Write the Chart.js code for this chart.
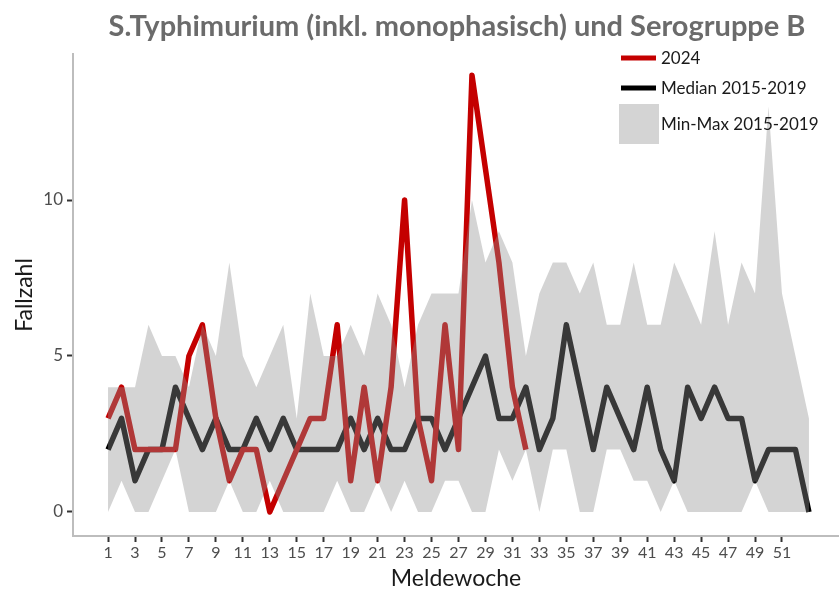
<!DOCTYPE html>
<html>
<head>
<meta charset="utf-8">
<script src="https://cdn.jsdelivr.net/npm/chart.js@4.4.1/dist/chart.umd.min.js"></script>
<style>
  body { margin: 0; background: #fff; }
</style>
</head>
<body>
<canvas id="myChart" width="839" height="592"></canvas>
<script>
// Meldewochen 1-53
const weeks = [1, 2, 3, 4, 5, 6, 7, 8, 9, 10, 11, 12, 13, 14, 15, 16, 17, 18, 19, 20,
    21, 22, 23, 24, 25, 26, 27, 28, 29, 30, 31, 32, 33, 34, 35, 36, 37, 38, 39, 40,
    41, 42, 43, 44, 45, 46, 47, 48, 49, 50, 51, 52, 53];
const weekTicks = [1, 3, 5, 7, 9, 11, 13, 15, 17, 19, 21, 23, 25, 27, 29, 31, 33, 35,
    37, 39, 41, 43, 45, 47, 49, 51];
const countTicks = [0, 5, 10];

// Fallzahlen 2024 (bis Woche 32)
const cases2024 = [3, 4, 2, 2, 2, 2, 5, 6, 3, 1, 2, 2, 0, 1, 2, 3, 3, 6, 1, 4,
    1, 4, 10, 3, 1, 6, 2, 14, 11, 8, 4, 2];
// Median 2015-2019
const median = [2, 3, 1, 2, 2, 4, 3, 2, 3, 2, 2, 3, 2, 3, 2, 2, 2, 2, 3, 2,
    3, 2, 2, 3, 3, 2, 3, 4, 5, 3, 3, 4, 2, 3, 6, 4, 2, 4, 3, 2,
    4, 2, 1, 4, 3, 4, 3, 3, 1, 2, 2, 2, 0];
// Min / Max 2015-2019
const minVals = [0, 1, 0, 0, 1, 2, 0, 0, 0, 1, 0, 0, 1, 0, 0, 0, 0, 1, 0, 0,
    1, 0, 1, 0, 0, 1, 1, 0, 0, 2, 1, 2, 0, 2, 2, 0, 0, 2, 2, 1,
    1, 0, 1, 0, 0, 0, 0, 0, 1, 0, 0, 0, 0];
const maxVals = [4, 4, 4, 6, 5, 5, 4, 6, 5, 8, 5, 4, 5, 6, 3, 7, 5, 5, 6, 5,
    7, 6, 4, 6, 7, 7, 7, 10, 8, 9, 8, 5, 7, 8, 8, 7, 8, 6, 6, 8,
    6, 6, 8, 7, 6, 9, 6, 8, 7, 13, 7, 5, 3];

const bandColor = 'rgba(143, 143, 143, 0.39)';
const redColor = '#c40000';

function toPoints(values) {
    return values.map((v, i) => ({ x: weeks[i], y: v }));
}

// title + legend in the top right corner
const cornerPlugin = {
    id: 'corner',
    afterDraw(chart) {
        const ctx = chart.ctx;
        const area = chart.chartArea;
        ctx.save();
        ctx.font = 'bold 29px Lato';
        ctx.fillStyle = '#6b6b6b';
        ctx.textAlign = 'center';
        ctx.textBaseline = 'middle';
        ctx.fillText('S.Typhimurium (inkl. monophasisch) und Serogruppe B', (area.left + area.right) / 2 + 1, 27);

        const ds = chart.data.datasets;
        ctx.textAlign = 'left';
        ctx.font = '17px Lato';
        // line entries
        [[ds[2], 58], [ds[3], 88]].forEach(([d, y]) => {
            ctx.strokeStyle = d.borderColor;
            ctx.lineWidth = 5;
            ctx.beginPath();
            ctx.moveTo(621, y);
            ctx.lineTo(656, y);
            ctx.stroke();
            ctx.fillStyle = '#1a1a1a';
            ctx.fillText(d.label, 661, y + 1);
        });
        // band entry
        ctx.fillStyle = ds[0].backgroundColor;
        ctx.fillRect(619, 104, 40, 40);
        ctx.fillStyle = '#1a1a1a';
        ctx.fillText(ds[0].label, 661, 125);
        ctx.restore();
    }
};

const ctx = document.getElementById('myChart').getContext('2d');
const myChart = new Chart(ctx, {
    type: 'line',
    data: {
        datasets: [{
                label: 'Min-Max 2015-2019',
                data: toPoints(maxVals),
                borderColor: 'rgba(0,0,0,0)',
                borderWidth: 0,
                backgroundColor: bandColor,
                fill: '+1',
                pointRadius: 0,
                order: 0
            },
            {
                label: 'Min',
                data: toPoints(minVals),
                borderColor: 'rgba(0,0,0,0)',
                borderWidth: 0,
                fill: false,
                pointRadius: 0,
                order: 0
            },
            {
                label: '2024',
                data: toPoints(cases2024),
                borderColor: redColor,
                borderWidth: 5.5,
                borderJoinStyle: 'round',
                fill: false,
                pointRadius: 0,
                order: 1
            },
            {
                label: 'Median 2015-2019',
                data: toPoints(median),
                borderColor: '#000000',
                borderWidth: 5.5,
                borderJoinStyle: 'round',
                fill: false,
                pointRadius: 0,
                order: 2
            }
        ]
    },
    options: {
        responsive: false,
        animation: false,
        devicePixelRatio: 1,
        layout: { padding: { top: 54, left: 0, right: 0, bottom: 0 } },
        plugins: {
            legend: { display: false },
            title: { display: false },
            tooltip: { enabled: false }
        },
        scales: {
            x: {
                type: 'linear',
                min: -1.6,
                max: 55.23,
                afterFit: (s) => { s.height = 56; },
                afterBuildTicks: (s) => { s.ticks = weekTicks.map(v => ({ value: v })); },
                border: { display: true, color: '#bdbdbd', width: 2 },
                grid: { drawOnChartArea: false, drawTicks: true, tickLength: 6, tickColor: '#333333', tickWidth: 2 },
                ticks: {
                    autoSkip: false,
                    maxRotation: 0,
                    color: '#4d4d4d',
                    padding: 1,
                    font: { family: 'Lato', size: 16 }
                },
                title: {
                    display: true,
                    text: 'Meldewoche',
                    color: '#1a1a1a',
                    padding: { top: 0, bottom: 0 },
                    font: { family: 'Lato', size: 23 }
                }
            },
            y: {
                min: -0.77,
                max: 14.68,
                afterFit: (s) => { s.width = 73; },
                afterBuildTicks: (s) => { s.ticks = countTicks.map(v => ({ value: v })); },
                border: { display: true, color: '#bdbdbd', width: 2 },
                grid: { drawOnChartArea: false, drawTicks: true, tickLength: 6, tickColor: '#333333', tickWidth: 2 },
                ticks: {
                    color: '#4d4d4d',
                    padding: 4,
                    font: { family: 'Lato', size: 17 }
                },
                title: {
                    display: true,
                    text: 'Fallzahl',
                    color: '#1a1a1a',
                    padding: { top: 11, bottom: 0 },
                    font: { family: 'Lato', size: 23 }
                }
            }
        }
    },
    plugins: [cornerPlugin]
});
</script>
</body>
</html>
